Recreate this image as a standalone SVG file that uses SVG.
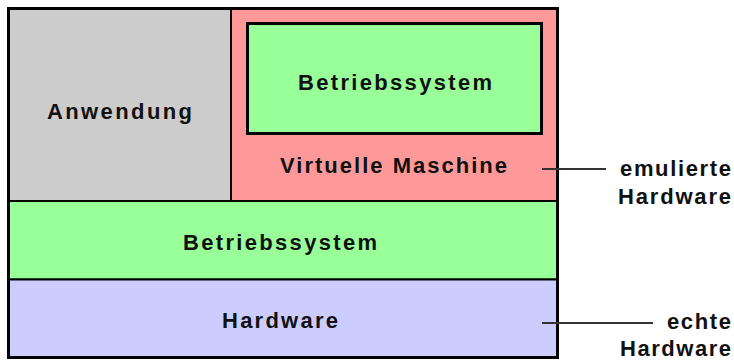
<svg xmlns="http://www.w3.org/2000/svg" width="734" height="361" viewBox="0 0 734 361">
  <style>
    .cell { stroke: #000; stroke-width: 2; }
    .lbl { font-family: "Liberation Sans", Arial, sans-serif; font-weight: bold; font-size: 22px; fill: #111; }
    .mid { text-anchor: middle; }
    .end { text-anchor: end; }
    .lead { stroke: #333; stroke-width: 2; fill: none; }
  </style>
  <rect width="734" height="361" fill="#fff"/>

  <g id="anwendung">
    <rect class="cell" x="8.5" y="8.5" width="222.5" height="192.5" fill="#cccccc"/>
    <text class="lbl mid" x="119.5" y="119" textLength="145" lengthAdjust="spacing">Anwendung</text>
  </g>

  <g id="virtuelle-maschine">
    <rect class="cell" x="231" y="8.5" width="326.5" height="192.5" fill="#ff9999"/>
    <text class="lbl mid" x="393.5" y="173" textLength="227" lengthAdjust="spacing">Virtuelle Maschine</text>
  </g>

  <g id="gast-betriebssystem">
    <rect x="247.5" y="23.5" width="294" height="110" fill="#99ff99" stroke="#000" stroke-width="3"/>
    <text class="lbl mid" x="395" y="90" textLength="194" lengthAdjust="spacing">Betriebssystem</text>
  </g>

  <g id="betriebssystem">
    <rect class="cell" x="8.5" y="201" width="549" height="78.5" fill="#99ff99"/>
    <text class="lbl mid" x="280" y="250" textLength="194" lengthAdjust="spacing">Betriebssystem</text>
  </g>

  <g id="hardware">
    <rect class="cell" x="8.5" y="279.5" width="549" height="78" fill="#ccccff"/>
    <text class="lbl mid" x="280" y="328" textLength="116" lengthAdjust="spacing">Hardware</text>
  </g>

  <!-- outer frame -->
  <rect x="8.5" y="8.5" width="549" height="349" fill="none" stroke="#000" stroke-width="3"/>

  <g id="connectors">
    <line class="lead" x1="542" y1="169" x2="606" y2="169"/>
    <line class="lead" x1="542" y1="323" x2="653" y2="323"/>
  </g>

  <g id="emulierte-hardware">
    <text class="lbl end" x="731" y="176" textLength="111" lengthAdjust="spacing">emulierte</text>
    <text class="lbl end" x="731" y="204" textLength="113" lengthAdjust="spacing">Hardware</text>
  </g>

  <g id="echte-hardware">
    <text class="lbl end" x="731" y="329" textLength="64" lengthAdjust="spacing">echte</text>
    <text class="lbl end" x="731" y="356" textLength="111" lengthAdjust="spacing">Hardware</text>
  </g>
</svg>
